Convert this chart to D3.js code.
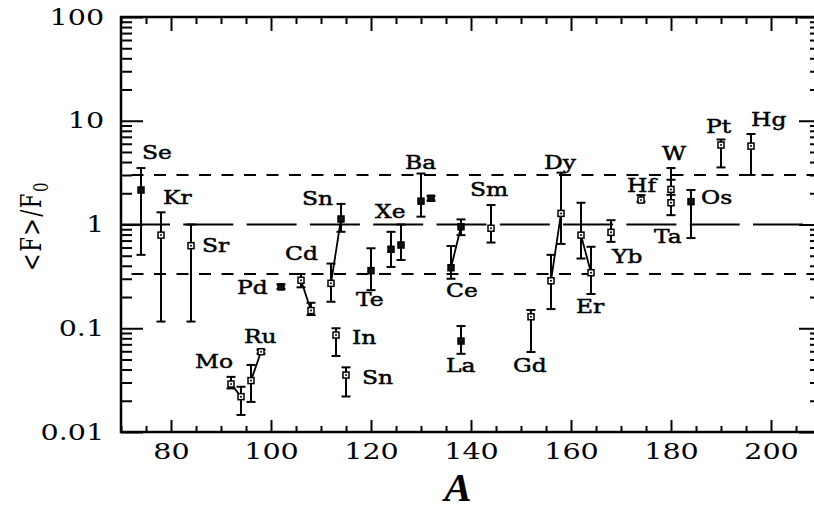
<!DOCTYPE html>
<html><head><meta charset="utf-8">
<script src="https://cdn.jsdelivr.net/npm/d3@7"></script>
<style>body{margin:0;background:#fff}svg{display:block}</style>
</head><body>
<svg id="c" width="814" height="511"></svg>
<script>
// ---- data ----
const massA   = [74, 78, 84, 102, 106, 108, 92, 94, 96, 98, 112, 114, 113, 115, 120, 124, 126, 130, 132, 136, 138, 138, 144, 152, 156, 158, 162, 164, 168, 174, 180, 180, 184, 190, 196];
const ratio   = [2.15, 0.79, 0.625, 0.25, 0.29, 0.148, 0.029, 0.0219, 0.0313, 0.0594, 0.271, 1.13, 0.086, 0.0354, 0.359, 0.577, 0.634, 1.68, 1.79, 0.383, 0.95, 0.0753, 0.92, 0.129, 0.287, 1.28, 0.79, 0.343, 0.84, 1.72, 2.18, 1.62, 1.66, 5.84, 5.7];
const errLow  = [0.51, 0.116, 0.116, 0.24, 0.248, 0.134, 0.0263, 0.0146, 0.0195, 0.057, 0.18, 0.85, 0.054, 0.022, 0.233, 0.39, 0.455, 1.19, 1.7, 0.30, 0.79, 0.0567, 0.67, 0.059, 0.153, 0.65, 0.47, 0.214, 0.68, 1.66, 1.93, 1.23, 0.74, 3.55, 3.0];
const errHigh = [3.5, 1.31, 1.0, 0.265, 0.333, 0.176, 0.034, 0.0273, 0.0443, 0.062, 0.42, 1.58, 0.1, 0.042, 0.59, 0.85, 1.0, 3.1, 1.88, 0.62, 1.12, 0.105, 1.54, 0.15, 0.51, 3.16, 1.62, 0.61, 1.1, 1.92, 3.5, 2.7, 2.15, 6.6, 7.45];
const filled  = [1, 0, 0, 1, 0, 0, 0, 0, 0, 0, 0, 1, 0, 0, 1, 1, 1, 1, 1, 1, 1, 1, 0, 0, 0, 0, 0, 0, 0, 0, 0, 0, 1, 0, 0];
const group   = ["Se","Kr","Sr","Pd","Cd","Cd","Mo","Mo","Ru","Ru","Sn1","Sn1","In","Sn2","Te","Xe1","Xe2","Ba1","Ba2","Ce","Ce","La","Sm","Gd","Dy","Dy","Er","Er","Yb","Hf","W","Ta","Os","Pt","Hg"];

const labelText = ["Se","Kr","Sr","Cd","Pd","Sn","Ru","Mo","In","Sn","Te","Xe","Ba","Sm","Ce","La","Gd","Dy","Er","Yb","Hf","W","Ta","Os","Pt","Hg"];
const labelA    = [74.2, 78.4, 86.2, 102.8, 93.2, 106.2, 94.6, 84.8, 116.2, 118.2, 117, 120.8, 126.8, 139.8, 135, 135, 148.4, 154.6, 161, 168.2, 171.2, 178.2, 176.6, 186, 187, 196];
const labelF    = [4.28, 1.577, 0.543, 0.455, 0.214, 1.54, 0.0721, 0.0414, 0.0705, 0.029, 0.1638, 1.155, 3.43, 1.88, 0.2, 0.0379, 0.0379, 3.43, 0.140, 0.4255, 2.057, 4.19, 0.663, 1.577, 7.62, 8.9];

const xMajor = [80, 100, 120, 140, 160, 180, 200];
const yMajor = [0.01, 0.1, 1, 10, 100];
const yMajorText = ["0.01", "0.1", "1", "10", "100"];
const refLevels = [3, 1, 1/3];
const xDomain = [70, 210];
const yDomain = [0.01, 100];

// ---- chart ----
const svg = d3.select("#c");
const x = d3.scaleLinear().domain(xDomain).range([121, 821]);
const y = d3.scaleLog().domain(yDomain).range([432, 17]);
const FONT = "'DejaVu Serif', serif";
const SX = 1.3;

const xMinor = d3.range(xDomain[0], xDomain[1] + 0.1, 5).filter(v => !xMajor.includes(v));
const yMinor = [];
[0.01, 0.1, 1, 10].forEach(d => { for (let k = 2; k <= 9; k++) yMinor.push(d * k); });

function clean(g) { g.select(".domain").remove(); g.selectAll("line").attr("stroke", "#000").attr("stroke-width", 2); }

// reference lines
const refG = svg.append("g");
refLevels.forEach(v => {
  const solid = v === 1;
  refG.append("line")
    .attr("x1", x(xDomain[0])).attr("x2", x(xDomain[1]))
    .attr("y1", y(v)).attr("y2", y(v))
    .attr("stroke", "#000").attr("stroke-width", 2)
    .attr("stroke-dasharray", solid ? "50,13.3" : "12,10.5")
    .attr("stroke-dashoffset", solid ? 1 : 12);
});

// bottom axis
svg.append("g").attr("transform", `translate(0,${y(yDomain[0])})`)
  .call(d3.axisBottom(x).tickValues(xMajor).tickSizeInner(-12).tickSizeOuter(0).tickPadding(11).tickFormat(d3.format("d")))
  .call(clean)
  .call(g => g.selectAll("text").attr("font-family", FONT).attr("font-size", 22).attr("fill", "#000").attr("transform", `scale(${SX},1)`));
svg.append("g").attr("transform", `translate(0,${y(yDomain[0])})`)
  .call(d3.axisBottom(x).tickValues(xMinor).tickSizeInner(-6).tickSizeOuter(0).tickFormat(""))
  .call(clean);
// top axis
svg.append("g").attr("transform", `translate(0,${y(yDomain[1])})`)
  .call(d3.axisTop(x).tickValues(xMajor).tickSizeInner(-14).tickSizeOuter(0).tickFormat(""))
  .call(clean);
svg.append("g").attr("transform", `translate(0,${y(yDomain[1])})`)
  .call(d3.axisTop(x).tickValues(xMinor).tickSizeInner(-7).tickSizeOuter(0).tickFormat(""))
  .call(clean);
// left axis
svg.append("g").attr("transform", `translate(${x(xDomain[0])},0)`)
  .call(d3.axisLeft(y).tickValues(yMajor).tickSizeInner(-22).tickSizeOuter(0).tickPadding(13).tickFormat((d, i) => yMajorText[i]))
  .call(clean)
  .call(g => g.selectAll("text").attr("font-family", FONT).attr("font-size", 22).attr("fill", "#000").attr("transform", `scale(${SX},1)`));
svg.append("g").attr("transform", `translate(${x(xDomain[0])},0)`)
  .call(d3.axisLeft(y).tickValues(yMinor).tickSizeInner(-11).tickSizeOuter(0).tickFormat(""))
  .call(clean);
// right axis
svg.append("g").attr("transform", `translate(${x(xDomain[1])},0)`)
  .call(d3.axisRight(y).tickValues(yMajor).tickSizeInner(-22).tickSizeOuter(0).tickFormat(""))
  .call(clean);
svg.append("g").attr("transform", `translate(${x(xDomain[1])},0)`)
  .call(d3.axisRight(y).tickValues(yMinor).tickSizeInner(-11).tickSizeOuter(0).tickFormat(""))
  .call(clean);

// frame
svg.append("rect")
  .attr("x", x(xDomain[0])).attr("y", y(yDomain[1]))
  .attr("width", x(xDomain[1]) - x(xDomain[0])).attr("height", y(yDomain[0]) - y(yDomain[1]))
  .attr("fill", "none").attr("stroke", "#000").attr("stroke-width", 2.5);

// connecting lines
const pts = massA.map((a, i) => ({a, v: ratio[i], lo: errLow[i], hi: errHigh[i], f: filled[i], g: group[i]}));
const groups = d3.groups(pts, d => d.g).filter(([, arr]) => arr.length > 1);
const line = d3.line().x(d => x(d.a)).y(d => y(d.v));
svg.append("g").selectAll("path").data(groups).join("path")
  .attr("d", ([, arr]) => line(arr))
  .attr("fill", "none").attr("stroke", "#000").attr("stroke-width", 1.8);

// error bars
const eb = svg.append("g").attr("stroke", "#000").attr("stroke-width", 2);
const cap = 4.5;
pts.forEach(d => {
  const cx = x(d.a);
  eb.append("line").attr("x1", cx).attr("x2", cx).attr("y1", y(d.lo)).attr("y2", y(d.hi));
  eb.append("line").attr("x1", cx - cap).attr("x2", cx + cap).attr("y1", y(d.lo)).attr("y2", y(d.lo));
  eb.append("line").attr("x1", cx - cap).attr("x2", cx + cap).attr("y1", y(d.hi)).attr("y2", y(d.hi));
});

// markers
svg.append("g").selectAll("rect").data(pts).join("rect")
  .attr("x", d => x(d.a) - 3).attr("y", d => y(d.v) - 3)
  .attr("width", 6).attr("height", 6)
  .attr("fill", d => d.f ? "#111" : "#fff")
  .attr("stroke", "#000").attr("stroke-width", 1.5);
svg.append("g").selectAll("circle").data(pts.filter(d => !d.f)).join("circle")
  .attr("cx", d => x(d.a)).attr("cy", d => y(d.v)).attr("r", 1).attr("fill", "#000");

// element labels
svg.append("g").selectAll("text").data(labelText).join("text")
  .attr("transform", (t, i) => `translate(${x(labelA[i])},${y(labelF[i])}) scale(${SX},1)`)
  .attr("font-family", FONT).attr("font-size", 18)
  .attr("fill", "#000").attr("stroke", "#000").attr("stroke-width", 0.45)
  .text(t => t);

// axis titles
svg.append("text")
  .attr("x", 458).attr("y", 501).attr("text-anchor", "middle")
  .attr("font-family", "'Liberation Serif', serif").attr("font-style", "italic").attr("font-weight", "bold")
  .attr("font-size", 41).attr("fill", "#000").text("A");

const yl = svg.append("text")
  .attr("transform", `translate(41,226) rotate(-90) scale(1,${SX})`)
  .attr("text-anchor", "middle")
  .attr("font-family", FONT).attr("font-size", 21).attr("fill", "#000")
  .attr("letter-spacing", 1.5);
yl.append("tspan").text("<F>/F");
yl.append("tspan").attr("font-size", 15).attr("dy", 5).text("0");
</script>
</body></html>
